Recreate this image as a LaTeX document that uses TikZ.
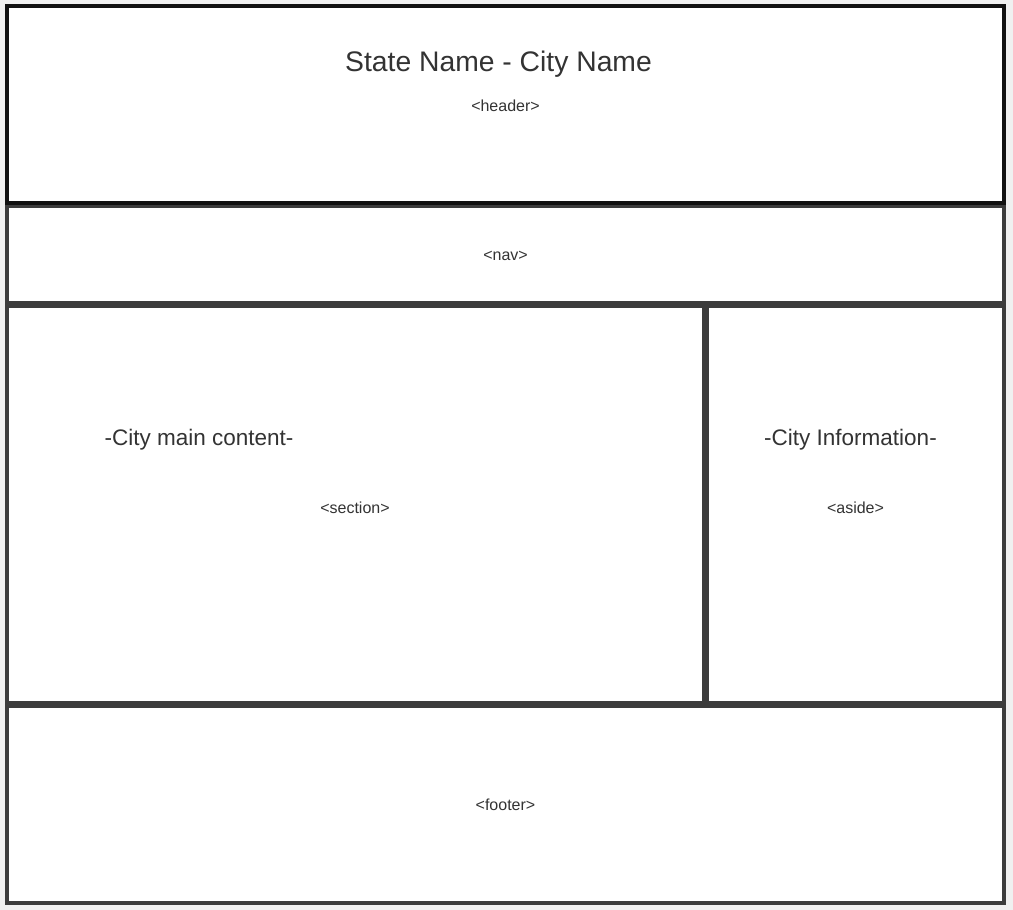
\documentclass[tikz,border=0pt]{standalone}
\usepackage{fontspec}
\setmainfont{Liberation Sans}
\definecolor{bg}{HTML}{F0F0F0}
\definecolor{edgegrey}{HTML}{3C3C3C}
\definecolor{edgeblack}{HTML}{111111}
\definecolor{txt}{HTML}{333333}
\begin{document}
\begin{tikzpicture}[x=1pt,y=-1pt,
  region/.style={draw=edgegrey,fill=white,line width=4pt,inner sep=0pt,outer sep=0pt},
  bigtxt/.style={text=txt,font=\fontsize{22.5}{26}\selectfont,anchor=base,inner sep=0pt},
  titletxt/.style={text=txt,font=\fontsize{28.3}{32}\selectfont,anchor=base,inner sep=0pt},
  tagtxt/.style={text=txt,font=\fontsize{16}{19}\selectfont,anchor=base,inner sep=0pt}]
\fill[bg] (0,0) rectangle (1013,910);
\useasboundingbox (0,0) rectangle (1013,910);
\node[region,minimum width=997pt,minimum height=197pt] (footer) at (505.5,804.5) {};
\node[region,minimum width=697pt,minimum height=397.5pt] (section) at (355.5,504.25) {};
\node[region,minimum width=297pt,minimum height=397.5pt] (aside) at (855.5,504.25) {};
\node[region,minimum width=997pt,minimum height=97pt] (nav) at (505.5,254.5) {};
\node[region,draw=edgeblack,minimum width=997pt,minimum height=197pt] (header) at (505.5,104) {};
\node[titletxt] (title) at (498.5,71.5) {State Name - City Name};
\node[tagtxt] (headertag) at (505.5,111) {<header>};
\node[tagtxt] (navtag) at (505.5,260.5) {<nav>};
\node[bigtxt] (maintxt) at (199,445.5) {-City main content-};
\node[tagtxt] (sectiontag) at (355,513.5) {<section>};
\node[bigtxt] (infotxt) at (850.5,445.5) {-City Information-};
\node[tagtxt] (asidetag) at (855.5,513.5) {<aside>};
\node[tagtxt] (footertag) at (505.5,810) {<footer>};
\end{tikzpicture}
\end{document}
